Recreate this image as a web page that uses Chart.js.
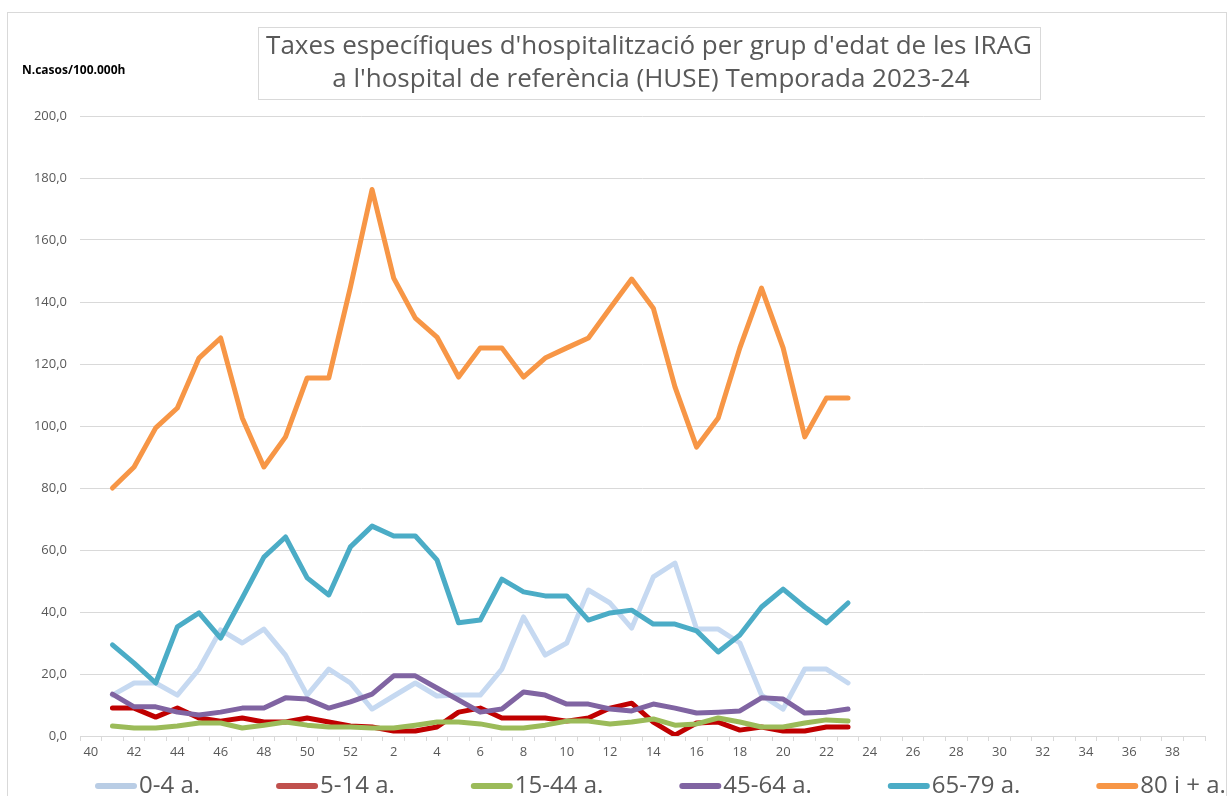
<!DOCTYPE html>
<html>
<head>
<meta charset="utf-8">
<script src="https://cdn.jsdelivr.net/npm/chart.js@4/dist/chart.umd.min.js"></script>
<style>
  html, body { margin: 0; padding: 0; background: #ffffff; }
  #wrap { width: 1230px; height: 796px; }
</style>
</head>
<body>
<div id="wrap"><canvas id="c" width="1230" height="796"></canvas></div>
<script>
// ---- data ----
const weeks = [40, 41, 42, 43, 44, 45, 46, 47, 48, 49, 50, 51, 52,
  1, 2, 3, 4, 5, 6, 7, 8, 9, 10, 11, 12, 13, 14, 15, 16, 17, 18, 19, 20,
  21, 22, 23, 24, 25, 26, 27, 28, 29, 30, 31, 32, 33, 34, 35, 36, 37, 38, 39];

const seriesNames = ['0-4 a.', '5-14 a.', '15-44 a.', '45-64 a.', '65-79 a.', '80 i + a.'];

const age0_4 = [null, 13.2, 17.1, 17.1, 13.2, 21.6, 34.2, 30.0, 34.5, 26.1, 13.2, 21.6, 17.1,
  8.7, 12.9, 17.1, 12.9, 13.2, 13.2, 21.6, 38.4, 26.1, 30.0, 47.1, 42.9, 34.8, 51.3, 55.8,
  34.5, 34.5, 30.0, 13.2, 8.7, 21.6, 21.6, 17.1];
const age5_14 = [null, 9.0, 9.0, 6.1, 9.0, 5.8, 4.8, 5.8, 4.5, 4.5, 5.8, 4.5, 3.2,
  2.9, 1.6, 1.6, 2.9, 7.7, 9.0, 5.8, 5.8, 5.8, 4.8, 5.8, 9.0, 10.6, 4.5, 0.3,
  4.2, 4.5, 1.9, 2.9, 1.6, 1.6, 2.9, 2.9];
const age15_44 = [null, 3.2, 2.6, 2.6, 3.2, 4.2, 4.2, 2.6, 3.5, 4.5, 3.5, 2.9, 2.9,
  2.6, 2.6, 3.5, 4.5, 4.5, 3.9, 2.6, 2.6, 3.5, 4.8, 4.8, 3.9, 4.5, 5.5, 3.5,
  3.9, 5.8, 4.5, 2.9, 2.9, 4.2, 5.2, 4.8];
const age45_64 = [null, 13.5, 9.4, 9.4, 7.7, 6.8, 7.7, 9.0, 9.0, 12.3, 11.9, 9.0, 11.0,
  13.5, 19.4, 19.4, 15.5, 11.6, 7.7, 8.7, 14.2, 13.2, 10.3, 10.3, 8.7, 8.1, 10.3, 9.0,
  7.4, 7.7, 8.1, 12.3, 11.9, 7.4, 7.7, 8.7];
const age65_79 = [null, 29.4, 23.5, 17.1, 35.2, 39.7, 31.6, 44.5, 57.7, 64.2, 51.0, 45.5, 61.0,
  67.7, 64.5, 64.5, 56.8, 36.5, 37.4, 50.6, 46.5, 45.2, 45.2, 37.4, 39.7, 40.6, 36.1, 36.1,
  33.9, 27.1, 32.6, 41.6, 47.4, 41.6, 36.5, 42.9];
const age80plus = [null, 80.0, 86.8, 99.4, 105.8, 121.9, 128.4, 102.6, 86.8, 96.5, 115.5, 115.5, 144.8,
  176.3, 147.7, 134.8, 128.7, 115.8, 125.2, 125.2, 115.8, 121.9, 125.2, 128.4, 138.0, 147.4, 138.0, 112.6,
  93.2, 102.6, 125.2, 144.5, 125.2, 96.5, 109.0, 109.0];

const yTicks = [0, 20, 40, 60, 80, 100, 120, 140, 160, 180, 200];

const titleLines = ["Taxes específiques d'hospitalització per grup d'edat de les IRAG",
  "a l'hospital de referència (HUSE) Temporada 2023-24"];
const yUnitLabel = 'N.casos/100.000h';

// ---- styles ----
const lineColors = ['#C6D9F1', '#C00000', '#9BBB59', '#8064A2', '#4BACC6', '#F79646'];
const legendColors = ['#B9CDE5', '#C0504D', '#9BBB59', '#8064A2', '#4BACC6', '#F79646'];
const FONT = "'Open Sans', 'Noto Sans', sans-serif";
const TXT = '#595959';

Chart.defaults.font.family = FONT;
Chart.defaults.color = TXT;

const allSeries = [age0_4, age5_14, age15_44, age45_64, age65_79, age80plus];
const datasets = allSeries.map((d, i) => ({
  label: seriesNames[i],
  data: d,
  borderColor: lineColors[i],
  backgroundColor: lineColors[i],
  borderWidth: 5,
  pointRadius: 0,
  pointHoverRadius: 0,
  tension: 0,
  fill: false,
  spanGaps: false,
  borderJoinStyle: 'round',
  borderCapStyle: 'round',
  order: allSeries.length - i
}));

const decorPlugin = {
  id: 'decor',
  beforeDraw(chart) {
    const ctx = chart.ctx;
    ctx.save();
    ctx.fillStyle = '#ffffff';
    ctx.fillRect(0, 0, chart.width, chart.height);
    ctx.strokeStyle = '#D9D9D9';
    ctx.lineWidth = 1;
    ctx.strokeRect(7.5, 12.5, 1219, 800);
    ctx.restore();
  },
  afterDraw(chart) {
    const ctx = chart.ctx;
    ctx.save();
    // title box
    ctx.strokeStyle = '#D9D9D9';
    ctx.lineWidth = 1;
    ctx.strokeRect(258.5, 27.5, 782, 72);
    ctx.fillStyle = TXT;
    ctx.textAlign = 'center';
    ctx.textBaseline = 'middle';
    ctx.font = '26px ' + FONT;
    ctx.fillText(titleLines[0], 649, 47, 772);
    ctx.fillText(titleLines[1], 651, 80, 642);
    // y unit label
    ctx.fillStyle = '#000000';
    ctx.textAlign = 'left';
    ctx.font = 'bold 12px ' + FONT;
    ctx.fillText(yUnitLabel, 22, 71, 111);
    // legend
    ctx.font = '24px ' + FONT;
    ctx.textBaseline = 'middle';
    let x = 95;
    const y = 786;
    const lineLen = 42;
    const gap = 76;
    seriesNames.forEach((name, i) => {
      ctx.strokeStyle = legendColors[i];
      ctx.lineWidth = 6;
      ctx.lineCap = 'round';
      ctx.beginPath();
      ctx.moveTo(x + 3, y);
      ctx.lineTo(x + lineLen - 3, y);
      ctx.stroke();
      ctx.fillStyle = TXT;
      const tx = x + lineLen + 2;
      ctx.fillText(name, tx, y);
      x = tx + ctx.measureText(name).width + gap;
    });
    ctx.restore();
  }
};

new Chart(document.getElementById('c'), {
  type: 'line',
  data: { labels: weeks, datasets },
  options: {
    responsive: false,
    animation: false,
    devicePixelRatio: 1,
    layout: { padding: { top: 116, left: 0, right: 25, bottom: 34 } },
    plugins: {
      legend: { display: false },
      title: { display: false },
      tooltip: { enabled: false }
    },
    scales: {
      x: {
        type: 'category',
        offset: true,
        grid: {
          offset: true,
          drawOnChartArea: false,
          drawTicks: true,
          tickLength: 5,
          color: '#D9D9D9'
        },
        border: { display: true, color: '#D9D9D9', width: 1 },
        ticks: {
          autoSkip: false,
          maxRotation: 0,
          minRotation: 0,
          padding: 3,
          color: TXT,
          font: { size: 13 },
          callback: function(value, index) { return index % 2 === 0 ? String(weeks[index]) : ''; }
        },
        afterFit(scale) { scale.height = 26; }
      },
      y: {
        min: 0,
        max: 200,
        afterBuildTicks(scale) { scale.ticks = yTicks.map(v => ({ value: v })); },
        grid: { color: '#D9D9D9', drawTicks: false, lineWidth: 1 },
        border: { display: false },
        ticks: {
          padding: 13,
          color: TXT,
          font: { size: 13 },
          callback: v => Number(v).toFixed(1).replace('.', ',')
        },
        afterFit(scale) { scale.width = 80; }
      }
    }
  },
  plugins: [decorPlugin]
});
</script>
</body>
</html>
